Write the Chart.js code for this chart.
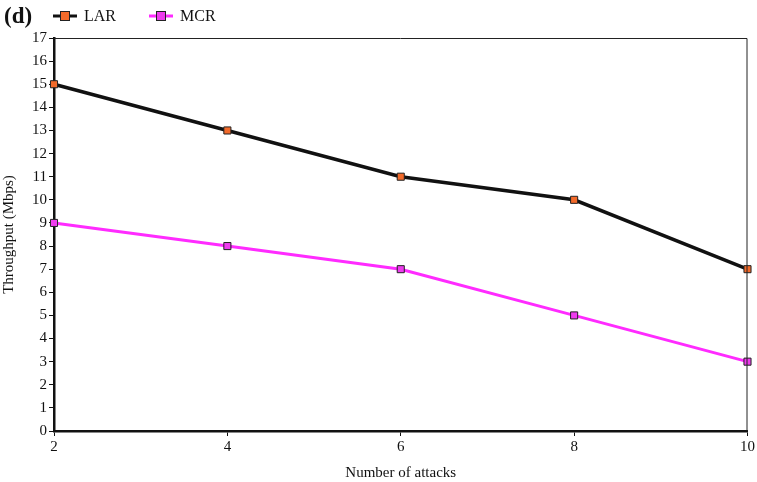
<!DOCTYPE html>
<html>
<head>
<meta charset="utf-8">
<script src="https://cdn.jsdelivr.net/npm/chart.js@4"></script>
<style>
  html, body { margin: 0; padding: 0; background: #fff; }
  #wrap { width: 757px; height: 482px; position: relative; }
</style>
</head>
<body>
<div id="wrap"><canvas id="tpChart"></canvas></div>
<script>
/* ===============================
   DATA
================================ */
const attacks = [2, 4, 6, 8, 10];
const larThroughput = [15, 13, 11, 10, 7];
const mcrThroughput = [9, 8, 7, 5, 3];
const yTicks = [0, 1, 2, 3, 4, 5, 6, 7, 8, 9, 10, 11, 12, 13, 14, 15, 16, 17];

const SERIF = "'Liberation Serif', 'Times New Roman', serif";

/* ===============================
   FRAME + LEGEND PLUGIN
================================ */
const frameAndLegend = {
  id: "frameAndLegend",
  afterDatasetsDraw(chart) {
    const { ctx, chartArea: a } = chart;
    ctx.save();
    // thin top / right border
    ctx.strokeStyle = "#222";
    ctx.lineWidth = 1;
    ctx.beginPath();
    ctx.moveTo(a.left, a.top + 0.5);
    ctx.lineTo(a.right - 0.5, a.top + 0.5);
    ctx.lineTo(a.right - 0.5, a.bottom);
    ctx.stroke();
    ctx.restore();
  },
  afterDraw(chart) {
    const { ctx } = chart;
    ctx.save();
    ctx.fillStyle = "#111";
    ctx.font = "bold 23px " + SERIF;
    ctx.textBaseline = "middle";
    ctx.fillText("(d)", 4, 17);

    const items = [
      { x: 53, ds: chart.data.datasets[0] },
      { x: 149, ds: chart.data.datasets[1] }
    ];
    items.forEach(({ x, ds }) => {
      const y = 16;
      ctx.strokeStyle = ds.borderColor;
      ctx.lineWidth = 3;
      ctx.beginPath();
      ctx.moveTo(x, y);
      ctx.lineTo(x + 24, y);
      ctx.stroke();
      ctx.fillStyle = ds.pointBackgroundColor;
      ctx.fillRect(x + 7.5, y - 4.5, 9, 9);
      ctx.strokeStyle = "#222";
      ctx.lineWidth = 1;
      ctx.strokeRect(x + 7.5, y - 4.5, 9, 9);
      ctx.fillStyle = "#111";
      ctx.font = "16px " + SERIF;
      ctx.fillText(ds.label, x + 31, y + 1);
    });
    ctx.restore();
  }
};

/* ===============================
   CHART
================================ */
const ctx = document.getElementById("tpChart").getContext("2d");

new Chart(ctx, {
  type: "line",
  data: {
    datasets: [
      {
        label: "LAR",
        data: attacks.map((x, i) => ({ x, y: larThroughput[i] })),
        borderColor: "#111",
        borderWidth: 3.5,
        pointStyle: "rect",
        pointRadius: 5,
        pointBackgroundColor: "#f26a2a",
        pointBorderColor: "#222",
        pointBorderWidth: 1,
        tension: 0,
        clip: false
      },
      {
        label: "MCR",
        data: attacks.map((x, i) => ({ x, y: mcrThroughput[i] })),
        borderColor: "#ff2bff",
        borderWidth: 3,
        pointStyle: "rect",
        pointRadius: 5,
        pointBackgroundColor: "#ee3cee",
        pointBorderColor: "#222",
        pointBorderWidth: 1,
        tension: 0,
        clip: false
      }
    ]
  },
  options: {
    responsive: true,
    maintainAspectRatio: false,
    animation: false,
    layout: { padding: { top: 38, right: 9, left: 0, bottom: 0 } },
    plugins: {
      legend: { display: false },
      tooltip: { enabled: false }
    },
    scales: {
      x: {
        type: "linear",
        min: 2,
        max: 10,
        afterBuildTicks: scale => {
          scale.ticks = attacks.map(v => ({ value: v }));
        },
        border: { display: true, color: "#111", width: 2.5 },
        grid: {
          drawOnChartArea: false,
          drawTicks: true,
          tickLength: 5,
          color: "#111",
          lineWidth: 1
        },
        ticks: {
          color: "#111",
          font: { family: SERIF, size: 15 },
          padding: 2,
          maxRotation: 0
        },
        title: {
          display: true,
          text: "Number of attacks",
          color: "#111",
          font: { family: SERIF, size: 15 },
          padding: { top: 8, bottom: 0 }
        },
        afterFit: scale => { scale.height = 51; }
      },
      y: {
        min: 0,
        max: 17,
        afterBuildTicks: scale => {
          scale.ticks = yTicks.map(v => ({ value: v }));
        },
        border: { display: true, color: "#111", width: 2.5 },
        grid: {
          drawOnChartArea: false,
          drawTicks: true,
          tickLength: 5,
          color: "#111",
          lineWidth: 1
        },
        ticks: {
          color: "#111",
          font: { family: SERIF, size: 15 },
          padding: 2
        },
        title: {
          display: true,
          text: "Throughput (Mbps)",
          color: "#111",
          font: { family: SERIF, size: 15 },
          padding: { top: 0, bottom: 4 }
        },
        afterFit: scale => { scale.width = 54; }
      }
    }
  },
  plugins: [frameAndLegend]
});
</script>
</body>
</html>
